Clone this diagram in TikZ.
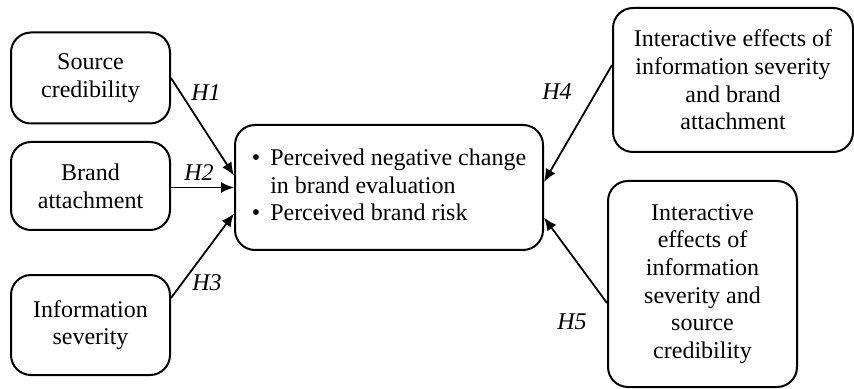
\documentclass[tikz,border=0pt]{standalone}
\usepackage{fontspec}
\setmainfont{Liberation Serif}
\usetikzlibrary{arrows.meta}

\begin{document}
\begin{tikzpicture}[x=0.5pt,y=-0.5pt,>={Latex[length=6.5pt,width=5.5pt]},
  box/.style={draw,line width=1pt,rounded corners=10pt,align=center,
    font=\fontsize{12}{13.8}\selectfont,inner sep=2pt},
  hyp/.style={font=\fontsize{12}{14}\selectfont\itshape},
  link/.style={->,line width=0.9pt}]
  \useasboundingbox (0,0) rectangle (854,389);
  \node[box,minimum width=79.5pt,minimum height=45.5pt] (src)  at (90.5,78)  {Source\\credibility};
  \node[box,minimum width=79.5pt,minimum height=44pt]   (att)  at (90.5,186) {Brand\\attachment};
  \node[box,minimum width=79.5pt,minimum height=50pt]   (sev)  at (90.5,325) {Information\\severity};
  \node[box,minimum width=154pt,minimum height=62.5pt]  (eval) at (389,187.5)
    {\begin{tabular}{@{}l@{\hspace{5pt}}l@{}}
       \textbullet & Perceived negative change\\
                   & in brand evaluation\\
       \textbullet & Perceived brand risk
     \end{tabular}};
  \node[box,minimum width=120pt,minimum height=72pt]    (sevatt) at (733,80)
    {Interactive effects of\\information severity\\and brand\\attachment};
  \node[box,minimum width=94.5pt,minimum height=103pt]  (sevsrc) at (702.5,284)
    {Interactive\\effects of\\information\\severity and\\source\\credibility};
  \draw[link] (src.east) -- ([yshift=6pt]eval.west);
  \draw[link] (att.east |- eval.west) -- (eval.west);
  \draw[link] ([yshift=13.5pt]sev.east) -- ([yshift=-13pt]eval.west);
  \draw[link] ([yshift=7.5pt]sevatt.west) -- ([yshift=2.75pt]eval.east);
  \draw[link] ([yshift=-9.5pt]sevsrc.west) -- ([yshift=-15pt]eval.east);
  \node[hyp] (h1) at (206,93)  {H1};
  \node[hyp] (h2) at (199,173) {H2};
  \node[hyp] (h3) at (207,283) {H3};
  \node[hyp] (h4) at (557,92)  {H4};
  \node[hyp] (h5) at (572,322) {H5};
\end{tikzpicture}
\end{document}
